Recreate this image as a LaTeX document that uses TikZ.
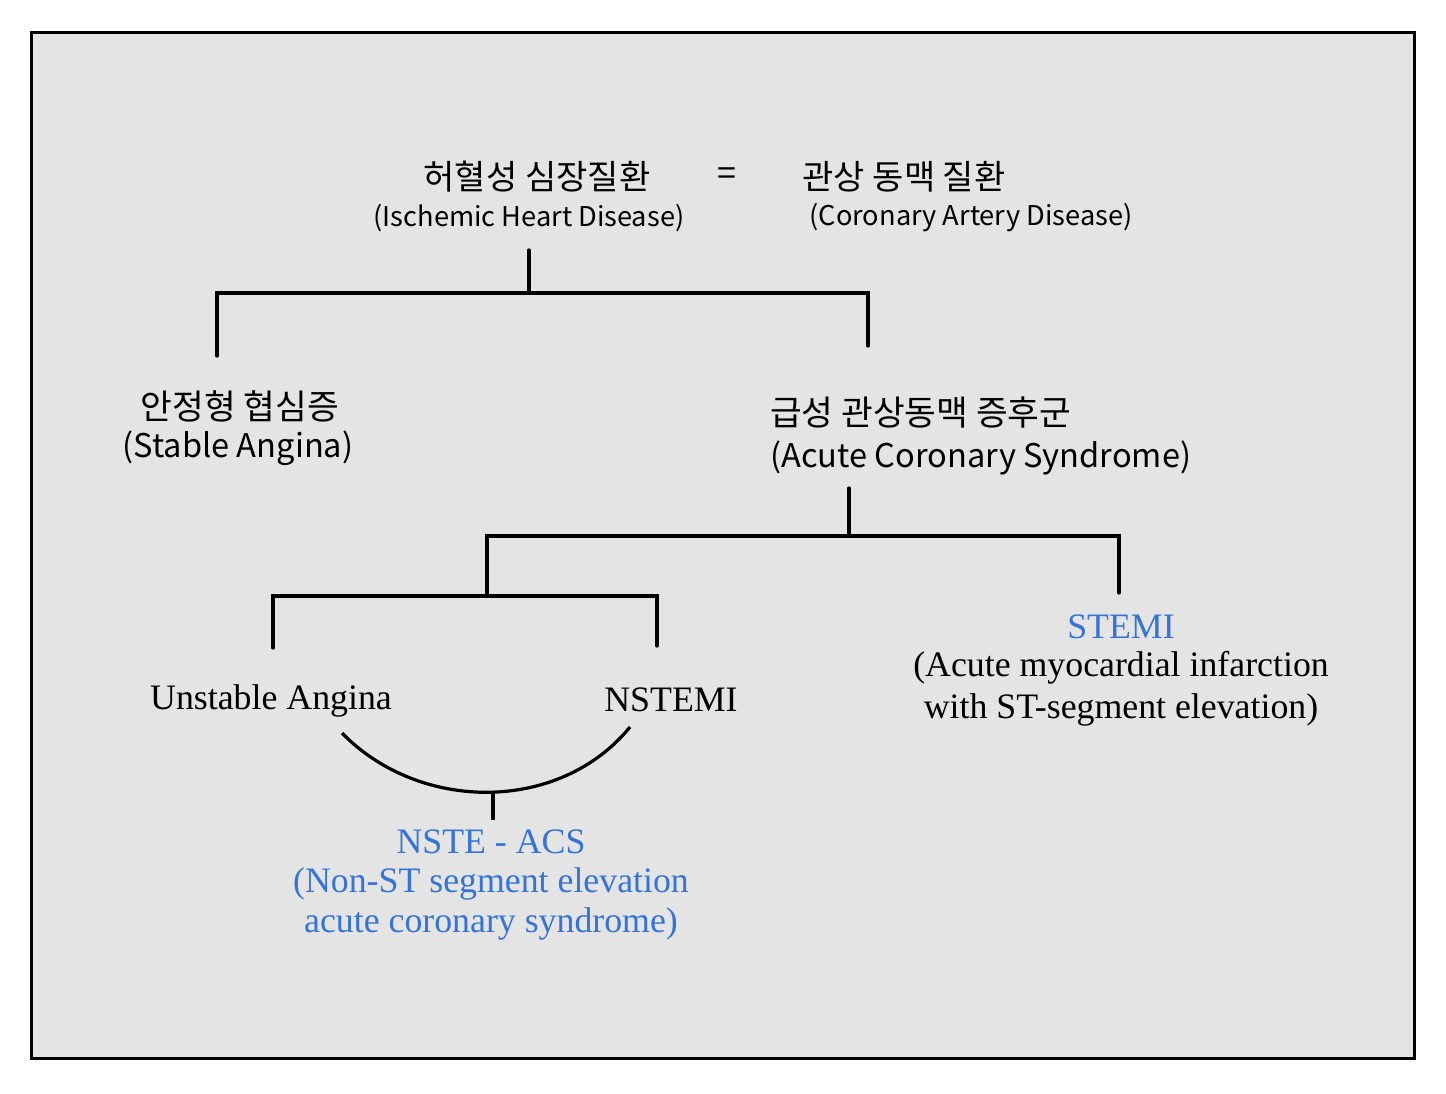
\documentclass[tikz,border=0pt]{standalone}
\usepackage{fontspec}
\setmainfont{Liberation Serif}
\newfontfamily\kr{Noto Sans CJK KR}
\definecolor{bgfill}{HTML}{E4E4E4}
\definecolor{blu}{HTML}{3474D8}
\begin{document}
\begin{tikzpicture}[x=1pt,y=-1pt,
  conn/.style={line width=3.2pt,line cap=round},
  krbig/.style={inner sep=0pt,font=\kr\fontsize{34}{40}\selectfont},
  krsmall/.style={inner sep=0pt,font=\kr\fontsize{27.2}{32}\selectfont},
  krmidk/.style={inner sep=0pt,font=\kr\fontsize{34.5}{40}\selectfont},
  krmid/.style={inner sep=0pt,font=\kr\fontsize{32.6}{40}\selectfont},
  serif/.style={inner sep=0pt,font=\fontsize{35.8}{41}\selectfont},
  blue/.style={serif,text=blu}]
\useasboundingbox (0,0) rectangle (1446,1093);
\draw[fill=bgfill,line width=3pt] (31,32) rectangle (1414,1058);

% top
\node[krbig] (ihd) at (537,177) {허혈성 심장질환};
\node[krsmall] (ihde) at (529,218) {(Ischemic Heart Disease)};
\node[krbig] (eq) at (727,177) {=};
\node[krbig] (cad) at (904,177) {관상 동맥 질환};
\node[krsmall] (cade) at (971,218) {(Coronary Artery Disease)};

% stable angina
\node[krmidk] (sa) at (240,406) {안정형 협심증};
\node[krmid] (sae) at (238,448) {(Stable Angina)};

% ACS
\node[krmidk,anchor=west] (acs) at (770,413) {급성 관상동맥 증후군};
\node[krmid,anchor=west] (acse) at (770,458) {(Acute Coronary Syndrome)};

% bottom
\node[serif] (ua) at (271,701) {Unstable Angina};
\node[serif] (nstemi) at (671,700) {NSTEMI};
\node[blue] (stemi) at (1121,627) {STEMI};
\node[serif] (stemi1) at (1121,668) {(Acute myocardial infarction};
\node[serif] (stemi2) at (1121,710) {with ST-segment elevation)};
\node[blue] (nste) at (491,842) {NSTE - ACS};
\node[blue] (nste1) at (491,884) {(Non-ST segment elevation};
\node[blue] (nste2) at (491,924) {acute coronary syndrome)};

% tree 1
\coordinate (a0) at (529,250);
\coordinate (a1) at (529,293);
\coordinate (aL) at (217,293);
\coordinate (aR) at (868,293);
\coordinate (aLd) at (217,356);
\coordinate (aRd) at (868,346);
\draw[conn] (a0) -- (a1);
\draw[conn] (aLd) -- (aL) -- (aR) -- (aRd);

% tree 2
\coordinate (b0) at (849,488);
\coordinate (b1) at (849,536);
\coordinate (bL) at (487,536);
\coordinate (bR) at (1119,536);
\coordinate (bLd) at (487,596);
\coordinate (bRd) at (1119,593);
\draw[conn] (b0) -- (b1);
\draw[conn] (bLd) -- (bL) -- (bR) -- (bRd);

% tree 3
\coordinate (cL) at (273,596);
\coordinate (cR) at (657,596);
\coordinate (cLd) at (273,648);
\coordinate (cRd) at (657,646);
\draw[conn] (cLd) -- (cL) -- (cR) -- (cRd);

% curve
\coordinate (d0) at (342,733);
\coordinate (d1) at (630,727);
\coordinate (db) at (493,792);
\coordinate (dd) at (493,820);
\draw[line width=3.2pt] (d0) .. controls (420,813) and (560,813) .. (d1);
\draw[line width=3.2pt] (db) -- (dd);
\end{tikzpicture}
\end{document}
